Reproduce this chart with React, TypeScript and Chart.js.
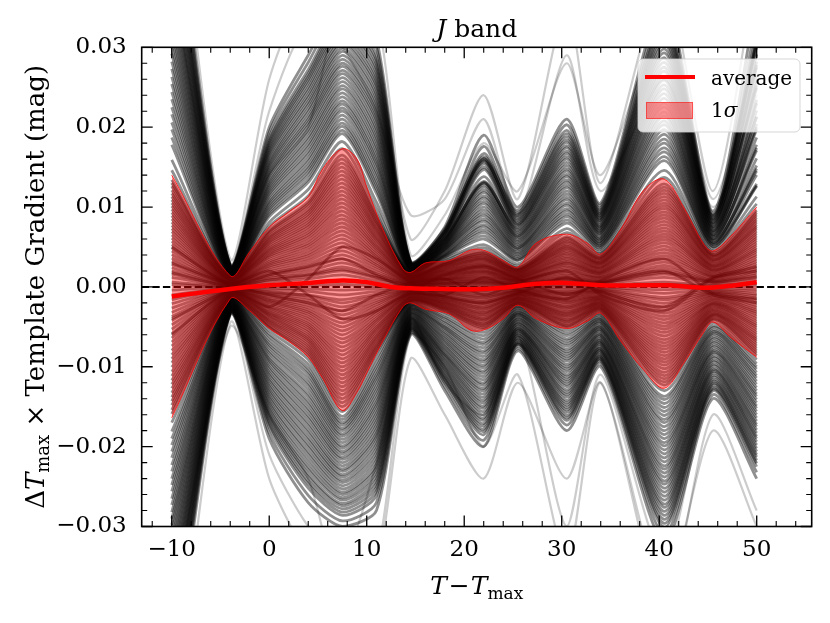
import React, { useEffect, useRef } from 'react';
import { Chart, registerables } from 'chart.js';

Chart.register(...registerables);

// ---------------- data (gradient curves in units of 1e-3 mag) ----------------
const MILLI = 0.001;
const CURVE_X = [-10, -4, 0, 4, 7.5, 11, 14.5, 18, 22, 25.5, 30.5, 34, 40.5, 45.5, 50];

// curves above zero, outer (large) to inner (small)
const UPPER_CURVES = [
  [52, 2.8, 20, 29, 36, 31, 3.2, 7.5, 19, 10, 21, 10.5, 36, 9.5, 36],
  [48.2, 2.7, 18.8, 27.2, 34.1, 28.9, 3.1, 7.1, 17.6, 9.3, 19.6, 9.9, 33.8, 9.0, 33.4],
  [46.3, 2.6, 18.1, 26.3, 33.2, 27.8, 3.0, 6.9, 15.8, 8.9, 18.8, 9.5, 32.6, 8.8, 30.1],
  [44.4, 2.5, 17.5, 25.5, 32.3, 26.7, 2.9, 6.7, 16.1, 8.5, 18.1, 9.2, 31.5, 8.5, 30.8],
  [42.5, 2.5, 16.9, 24.6, 31.3, 25.6, 2.9, 6.5, 15.4, 8.1, 17.4, 8.9, 30.4, 8.3, 27.5],
  [40.6, 2.4, 16.3, 23.7, 30.4, 24.6, 2.8, 6.2, 14.7, 7.8, 16.7, 8.6, 29.3, 8.0, 28.2],
  [38.7, 2.3, 15.6, 22.8, 29.5, 23.5, 2.7, 6.0, 13.0, 7.4, 16.0, 8.3, 28.1, 7.8, 24.9],
  [36.8, 2.2, 15.0, 21.9, 28.5, 22.4, 2.6, 5.8, 13.2, 7.0, 15.2, 7.9, 27.0, 7.5, 25.6],
  [34.9, 2.2, 14.4, 21.0, 27.6, 21.3, 2.6, 5.6, 12.5, 6.6, 14.5, 7.6, 25.9, 7.3, 21.3],
  [33.0, 2.1, 13.8, 20.2, 26.7, 20.3, 2.5, 5.4, 11.8, 6.3, 13.8, 7.3, 24.8, 7.0, 23.0],
  [31.1, 2.0, 13.1, 19.3, 25.7, 19.2, 2.4, 5.2, 11.1, 5.9, 13.1, 7.0, 23.6, 6.8, 19.7],
  [29.2, 2.0, 12.5, 18.4, 24.8, 18.1, 2.4, 5.0, 10.4, 5.5, 12.4, 6.7, 22.5, 6.5, 20.4],
  [27.3, 1.9, 11.9, 17.5, 23.8, 17.0, 2.3, 4.8, 9.6, 5.1, 11.6, 6.3, 21.4, 6.3, 17.1],
  [25.4, 1.8, 11.3, 16.6, 22.9, 15.9, 2.2, 4.6, 8.9, 4.8, 10.9, 6.0, 20.3, 6.0, 17.8],
  [23.5, 1.8, 10.6, 15.7, 22.0, 14.9, 2.2, 4.4, 8.2, 4.4, 10.2, 5.7, 19.1, 5.8, 14.5],
  [21.6, 1.7, 10.0, 14.8, 21.0, 13.8, 2.1, 4.1, 7.5, 4.0, 9.5, 5.4, 18.0, 5.5, 15.2],
  [19.7, 1.6, 9.4, 14.0, 20.1, 12.7, 2.0, 3.9, 6.8, 3.6, 8.8, 5.1, 16.9, 5.3, 12.9],
  [17.8, 1.5, 8.8, 13.1, 19.2, 11.7, 1.9, 3.7, 6.0, 3.3, 8.0, 4.7, 15.8, 5.0, 12.6],
  [15.9, 1.5, 8.1, 12.2, 18.2, 10.6, 1.9, 3.5, 5.3, 2.9, 7.3, 4.4, 14.6, 4.8, 11.3],
  [13.4, 1.3, 7.1, 10.7, 16.5, 9.1, 1.7, 3.1, 4.5, 2.4, 6.3, 4.0, 12.9, 4.3, 9.6],
  [12.6, 1.3, 6.7, 10.1, 15.5, 8.5, 1.6, 2.9, 4.2, 2.2, 5.9, 3.7, 12.1, 4.0, 9.0],
  [11.7, 1.2, 6.2, 9.4, 14.5, 8.0, 1.5, 2.8, 3.9, 2.1, 5.5, 3.5, 11.3, 3.8, 8.4],
  [10.9, 1.1, 5.8, 8.8, 13.5, 7.4, 1.4, 2.6, 3.6, 2.0, 5.1, 3.2, 10.5, 3.5, 7.8],
  [10.1, 1.0, 5.4, 8.1, 12.5, 6.9, 1.3, 2.4, 3.4, 1.8, 4.8, 3.0, 9.8, 3.3, 7.3],
  [9.3, 0.9, 4.9, 7.5, 11.5, 6.3, 1.2, 2.2, 3.1, 1.7, 4.4, 2.8, 9.0, 3.0, 6.7],
  [8.5, 0.9, 4.5, 6.8, 10.5, 5.8, 1.1, 2.0, 2.8, 1.5, 4.0, 2.5, 8.2, 2.7, 6.1],
  [7.7, 0.8, 4.1, 6.2, 9.5, 5.2, 1.0, 1.8, 2.6, 1.4, 3.6, 2.3, 7.4, 2.5, 5.5],
  [6.9, 0.7, 3.7, 5.5, 8.5, 4.7, 0.9, 1.6, 2.3, 1.2, 3.2, 2.0, 6.6, 2.2, 4.9],
  [6.1, 0.6, 3.2, 4.9, 7.5, 4.1, 0.8, 1.4, 2.0, 1.1, 2.9, 1.8, 5.9, 2.0, 4.4],
  [5.3, 0.5, 2.8, 4.2, 6.5, 3.6, 0.7, 1.2, 1.8, 0.9, 2.5, 1.6, 5.1, 1.7, 3.8],
  [4.5, 0.4, 2.4, 3.6, 5.5, 3.0, 0.6, 1.0, 1.5, 0.8, 2.1, 1.3, 4.3, 1.4, 3.2],
  [3.6, 0.4, 1.9, 2.9, 4.5, 2.5, 0.5, 0.9, 1.2, 0.7, 1.7, 1.1, 3.5, 1.2, 2.6],
  [2.8, 0.3, 1.5, 2.3, 3.5, 1.9, 0.4, 0.7, 0.9, 0.5, 1.3, 0.8, 2.7, 0.9, 2.0],
  [2.0, 0.2, 1.1, 1.6, 2.5, 1.4, 0.3, 0.5, 0.7, 0.4, 1.0, 0.6, 2.0, 0.7, 1.5],
  [1.2, 0.1, 0.6, 1.0, 1.5, 0.8, 0.2, 0.3, 0.4, 0.2, 0.6, 0.4, 1.2, 0.4, 0.9],
];

// further curves above zero, lying between the ones above
const UPPER_CURVES_B = [
  [50, 2.75, 19.4, 28.1, 35, 30, 3.15, 7.3, 16.3, 9.6, 20.3, 10.2, 34.9, 9.2, 31.0],
  [47.2, 2.65, 18.4, 26.7, 33.6, 28.3, 3.05, 7.0, 16.7, 9.1, 19.2, 9.7, 33.2, 8.9, 31.7],
  [45.3, 2.55, 17.8, 25.9, 32.7, 27.2, 2.95, 6.8, 16.0, 8.7, 18.4, 9.3, 32.0, 8.6, 30.4],
  [43.4, 2.5, 17.2, 25.0, 31.8, 26.1, 2.9, 6.6, 15.7, 8.3, 17.7, 9.0, 30.9, 8.4, 29.1],
  [41.5, 2.45, 16.6, 24.1, 30.8, 25.1, 2.85, 6.3, 15.0, 7.9, 17.0, 8.7, 29.8, 8.1, 27.8],
  [39.6, 2.35, 15.9, 23.2, 29.9, 24.0, 2.75, 6.1, 13.8, 7.6, 16.3, 8.4, 28.7, 7.9, 26.5],
  [37.7, 2.25, 15.3, 22.3, 29.0, 22.9, 2.65, 5.9, 13.1, 7.2, 15.6, 8.1, 27.5, 7.6, 25.2],
  [35.8, 2.2, 14.7, 21.4, 28.0, 21.8, 2.6, 5.7, 12.8, 6.8, 14.8, 7.7, 26.4, 7.4, 23.4],
  [33.9, 2.15, 14.1, 20.6, 27.1, 20.8, 2.55, 5.5, 12.1, 6.4, 14.1, 7.4, 25.3, 7.1, 22.1],
  [32.0, 2.05, 13.4, 19.7, 26.2, 19.7, 2.45, 5.3, 11.4, 6.1, 13.4, 7.1, 24.2, 6.9, 21.3],
  [30.1, 2.0, 12.8, 18.8, 25.2, 18.6, 2.4, 5.1, 10.7, 5.7, 12.7, 6.8, 23.0, 6.6, 20.0],
  [28.2, 1.95, 12.2, 17.9, 24.3, 17.5, 2.35, 4.9, 10.0, 5.3, 12.0, 6.5, 21.9, 6.4, 18.7],
  [26.3, 1.85, 11.6, 17.0, 23.3, 16.4, 2.25, 4.7, 9.2, 4.9, 11.2, 6.1, 20.8, 6.1, 17.4],
  [24.4, 1.8, 10.9, 16.1, 22.4, 15.4, 2.2, 4.5, 8.5, 4.6, 10.5, 5.8, 19.7, 5.9, 16.1],
  [22.5, 1.75, 10.3, 15.2, 21.5, 14.3, 2.15, 4.2, 7.8, 4.2, 9.8, 5.5, 18.5, 5.6, 14.8],
  [20.6, 1.65, 9.7, 14.4, 20.5, 13.2, 2.05, 4.0, 7.1, 3.8, 9.1, 5.2, 17.4, 5.4, 14.0],
  [18.7, 1.55, 9.1, 13.5, 19.6, 12.2, 1.95, 3.8, 6.4, 3.4, 8.4, 4.9, 16.3, 5.1, 12.7],
  [14.6, 1.4, 7.6, 11.4, 17.3, 9.8, 1.8, 3.3, 4.9, 2.6, 6.8, 4.2, 13.7, 4.5, 10.4],
  [13.0, 1.3, 6.9, 10.4, 16.0, 8.8, 1.65, 3.0, 4.3, 2.3, 6.1, 3.8, 12.5, 4.1, 9.3],
  [12.1, 1.25, 6.4, 9.7, 15.0, 8.2, 1.55, 2.85, 4.0, 2.15, 5.7, 3.6, 11.7, 3.9, 8.7],
  [11.3, 1.15, 6.0, 9.1, 14.0, 7.7, 1.45, 2.7, 3.75, 2.05, 5.3, 3.35, 10.9, 3.65, 8.1],
  [10.5, 1.05, 5.6, 8.45, 13.0, 7.15, 1.35, 2.5, 3.5, 1.9, 4.95, 3.1, 10.15, 3.4, 7.55],
  [9.7, 0.95, 5.15, 7.8, 12.0, 6.6, 1.25, 2.3, 3.25, 1.75, 4.6, 2.9, 9.4, 3.15, 7.0],
  [8.9, 0.9, 4.7, 7.15, 11.0, 6.05, 1.15, 2.1, 2.95, 1.6, 4.2, 2.65, 8.6, 2.85, 6.4],
  [8.1, 0.85, 4.3, 6.5, 10.0, 5.5, 1.05, 1.9, 2.7, 1.45, 3.8, 2.4, 7.8, 2.6, 5.8],
  [7.3, 0.75, 3.9, 5.85, 9.0, 4.95, 0.95, 1.7, 2.45, 1.3, 3.4, 2.15, 7.0, 2.35, 5.2],
  [6.5, 0.65, 3.45, 5.2, 8.0, 4.4, 0.85, 1.5, 2.15, 1.15, 3.05, 1.9, 6.25, 2.1, 4.65],
  [5.7, 0.55, 3.0, 4.55, 7.0, 3.85, 0.75, 1.3, 1.9, 1.0, 2.7, 1.7, 5.5, 1.85, 4.1],
  [4.9, 0.45, 2.6, 3.9, 6.0, 3.3, 0.65, 1.1, 1.65, 0.85, 2.3, 1.45, 4.7, 1.55, 3.5],
  [4.05, 0.4, 2.15, 3.25, 5.0, 2.75, 0.55, 0.95, 1.35, 0.75, 1.9, 1.2, 3.9, 1.3, 2.9],
  [3.2, 0.35, 1.7, 2.6, 4.0, 2.2, 0.45, 0.8, 1.05, 0.6, 1.5, 0.95, 3.1, 1.05, 2.3],
  [2.4, 0.25, 1.3, 1.95, 3.0, 1.65, 0.35, 0.6, 0.8, 0.45, 1.15, 0.7, 2.35, 0.8, 1.75],
  [1.6, 0.15, 0.85, 1.3, 2.0, 1.1, 0.25, 0.4, 0.55, 0.3, 0.8, 0.5, 1.6, 0.55, 1.2],
  [0.6, 0.05, 0.3, 0.5, 0.8, 0.4, 0.1, 0.15, 0.2, 0.1, 0.3, 0.2, 0.6, 0.2, 0.45],
];

// curves below zero, outer to inner
const LOWER_CURVES = [
  [-50, -3.5, -19, -27, -30, -28, -6, -13, -20, -8, -18, -10, -32, -14, -24],
  [-46.6, -3.3, -17.6, -25.2, -28.6, -26.1, -5.6, -12.0, -18.5, -7.4, -16.7, -9.3, -30.1, -13.0, -22.5],
  [-45.0, -3.2, -16.9, -24.3, -27.8, -25.1, -5.4, -11.5, -17.8, -7.1, -16.1, -9.0, -29.1, -12.6, -21.7],
  [-43.3, -3.1, -16.2, -23.4, -27.1, -24.1, -5.2, -11.1, -17.1, -6.9, -15.4, -8.7, -28.1, -12.1, -21.0],
  [-41.6, -3.0, -15.6, -22.5, -26.4, -23.1, -5.0, -10.6, -16.4, -6.6, -14.8, -8.3, -27.2, -11.6, -20.2],
  [-39.9, -2.9, -14.9, -21.5, -25.7, -22.2, -4.8, -10.1, -15.6, -6.3, -14.2, -8.0, -26.2, -11.1, -19.4],
  [-38.2, -2.8, -14.2, -20.6, -24.9, -21.2, -4.6, -9.6, -14.9, -6.0, -13.5, -7.7, -25.2, -10.6, -18.7],
  [-36.6, -2.7, -13.5, -19.7, -24.2, -20.2, -4.4, -9.1, -14.2, -5.7, -12.9, -7.3, -24.3, -10.2, -17.9],
  [-34.9, -2.6, -12.8, -18.8, -23.5, -19.2, -4.2, -8.6, -13.4, -5.4, -12.2, -7.0, -23.3, -9.7, -17.2],
  [-33.2, -2.5, -12.1, -17.9, -22.8, -18.3, -4.0, -8.2, -12.7, -5.2, -11.6, -6.7, -22.4, -9.2, -16.4],
  [-31.5, -2.4, -11.4, -17.0, -22.0, -17.3, -3.8, -7.7, -12.0, -4.9, -11.0, -6.3, -21.4, -8.7, -15.6],
  [-29.8, -2.3, -10.7, -16.1, -21.3, -16.3, -3.6, -7.2, -11.2, -4.6, -10.3, -6.0, -20.4, -8.2, -14.9],
  [-28.2, -2.2, -10.0, -15.2, -20.6, -15.3, -3.4, -6.7, -10.5, -4.3, -9.7, -5.6, -19.5, -7.8, -14.1],
  [-26.5, -2.1, -9.3, -14.3, -19.9, -14.4, -3.2, -6.2, -9.8, -4.0, -9.0, -5.3, -18.5, -7.3, -13.4],
  [-24.8, -2.0, -8.7, -13.4, -19.1, -13.4, -3.0, -5.7, -9.1, -3.7, -8.4, -5.0, -17.5, -6.8, -12.6],
  [-23.1, -1.9, -8.0, -12.4, -18.4, -12.4, -2.8, -5.2, -8.3, -3.4, -7.8, -4.6, -16.6, -6.3, -11.8],
  [-21.4, -1.8, -7.3, -11.5, -17.7, -11.4, -2.6, -4.8, -7.6, -3.2, -7.1, -4.3, -15.6, -5.8, -11.1],
  [-19.8, -1.7, -6.6, -10.6, -17.0, -10.5, -2.4, -4.3, -6.9, -2.9, -6.5, -4.0, -14.6, -5.4, -10.3],
  [-18.1, -1.6, -5.9, -9.7, -16.2, -9.5, -2.2, -3.8, -6.1, -2.6, -5.8, -3.6, -13.7, -4.9, -9.6],
  [-15.9, -1.5, -5.1, -8.6, -15, -8.3, -2.0, -3.2, -5.3, -2.3, -5.1, -3.2, -12.3, -4.2, -8.6],
  [-14.8, -1.4, -4.8, -8.0, -14, -7.7, -1.8, -2.9, -4.9, -2.1, -4.8, -2.9, -11.5, -3.9, -8.0],
  [-13.8, -1.3, -4.4, -7.4, -13, -7.2, -1.7, -2.7, -4.6, -2.0, -4.4, -2.7, -10.7, -3.6, -7.4],
  [-12.7, -1.2, -4.1, -6.8, -12, -6.6, -1.6, -2.5, -4.2, -1.8, -4.1, -2.5, -9.8, -3.4, -6.8],
  [-11.7, -1.1, -3.7, -6.3, -11, -6.1, -1.4, -2.3, -3.9, -1.7, -3.7, -2.3, -9.0, -3.1, -6.3],
  [-10.6, -1.0, -3.4, -5.7, -10, -5.5, -1.3, -2.1, -3.5, -1.5, -3.4, -2.1, -8.2, -2.8, -5.7],
  [-9.5, -0.9, -3.1, -5.1, -9, -5.0, -1.2, -1.9, -3.2, -1.4, -3.1, -1.9, -7.4, -2.5, -5.1],
  [-8.5, -0.8, -2.7, -4.6, -8, -4.4, -1.0, -1.7, -2.8, -1.2, -2.7, -1.7, -6.6, -2.2, -4.6],
  [-7.4, -0.7, -2.4, -4.0, -7, -3.9, -0.9, -1.5, -2.5, -1.1, -2.4, -1.5, -5.7, -2.0, -4.0],
  [-6.4, -0.6, -2.0, -3.4, -6, -3.3, -0.8, -1.3, -2.1, -0.9, -2.0, -1.3, -4.9, -1.7, -3.4],
  [-5.3, -0.5, -1.7, -2.9, -5, -2.8, -0.7, -1.1, -1.8, -0.8, -1.7, -1.1, -4.1, -1.4, -2.9],
  [-4.2, -0.4, -1.4, -2.3, -4, -2.2, -0.5, -0.8, -1.4, -0.6, -1.4, -0.8, -3.3, -1.1, -2.3],
  [-3.2, -0.3, -1.0, -1.7, -3, -1.7, -0.4, -0.6, -1.1, -0.5, -1.0, -0.6, -2.5, -0.8, -1.7],
  [-2.1, -0.2, -0.7, -1.1, -2, -1.1, -0.3, -0.4, -0.7, -0.3, -0.7, -0.4, -1.6, -0.6, -1.1],
];

// further curves below zero, lying between the ones above
const LOWER_CURVES_B = [
  [-48.3, -3.4, -18.3, -26.1, -29.3, -27.0, -5.8, -12.5, -19.2, -7.7, -17.3, -9.6, -31.0, -13.5, -23.2],
  [-45.8, -3.25, -17.2, -24.7, -28.2, -25.6, -5.5, -11.7, -18.1, -7.2, -16.4, -9.1, -29.6, -12.8, -22.1],
  [-44.1, -3.15, -16.5, -23.8, -27.4, -24.6, -5.3, -11.3, -17.4, -7.0, -15.7, -8.8, -28.6, -12.3, -21.3],
  [-42.4, -3.05, -15.9, -22.9, -26.7, -23.6, -5.1, -10.8, -16.7, -6.7, -15.1, -8.5, -27.6, -11.8, -20.6],
  [-40.7, -2.95, -15.2, -22.0, -26.0, -22.6, -4.9, -10.3, -16.0, -6.4, -14.5, -8.1, -26.7, -11.3, -19.8],
  [-39.0, -2.85, -14.5, -21.0, -25.3, -21.7, -4.7, -9.8, -15.2, -6.1, -13.8, -7.8, -25.7, -10.8, -19.0],
  [-37.4, -2.75, -13.8, -20.1, -24.5, -20.7, -4.5, -9.3, -14.5, -5.8, -13.2, -7.5, -24.7, -10.4, -18.3],
  [-35.7, -2.65, -13.1, -19.2, -23.8, -19.7, -4.3, -8.8, -13.8, -5.5, -12.5, -7.1, -23.8, -9.9, -17.5],
  [-34.0, -2.55, -12.4, -18.3, -23.1, -18.7, -4.1, -8.4, -13.0, -5.3, -11.9, -6.8, -22.8, -9.4, -16.8],
  [-32.3, -2.45, -11.7, -17.4, -22.4, -17.8, -3.9, -7.9, -12.3, -5.0, -11.3, -6.5, -21.9, -8.9, -16.0],
  [-30.6, -2.35, -11.0, -16.5, -21.6, -16.8, -3.7, -7.4, -11.6, -4.7, -10.6, -6.1, -20.9, -8.4, -15.2],
  [-29.0, -2.25, -10.3, -15.6, -20.9, -15.8, -3.5, -6.9, -10.8, -4.4, -10.0, -5.8, -19.9, -8.0, -14.5],
  [-27.3, -2.15, -9.6, -14.7, -20.2, -14.8, -3.3, -6.4, -10.1, -4.1, -9.3, -5.4, -19.0, -7.5, -13.7],
  [-25.6, -2.05, -9.0, -13.8, -19.5, -13.9, -3.1, -5.9, -9.4, -3.8, -8.7, -5.1, -18.0, -7.0, -13.0],
  [-24.0, -1.95, -8.3, -12.9, -18.7, -12.9, -2.9, -5.4, -8.7, -3.5, -8.1, -4.8, -17.0, -6.5, -12.2],
  [-22.3, -1.85, -7.6, -12.0, -18.0, -11.9, -2.7, -5.0, -8.0, -3.3, -7.4, -4.4, -16.1, -6.0, -11.4],
  [-20.6, -1.75, -7.0, -11.0, -17.3, -11.0, -2.5, -4.5, -7.2, -3.0, -6.8, -4.1, -15.1, -5.6, -10.7],
  [-19.0, -1.65, -6.2, -10.2, -16.6, -10.0, -2.3, -4.0, -6.5, -2.7, -6.1, -3.8, -14.1, -5.1, -10.0],
  [-17.0, -1.55, -5.5, -9.1, -15.6, -8.9, -2.1, -3.5, -5.7, -2.45, -5.45, -3.4, -13.0, -4.55, -9.1],
  [-15.4, -1.45, -5.0, -8.3, -14.5, -8.0, -1.9, -3.05, -5.1, -2.2, -4.95, -3.05, -11.9, -4.05, -8.3],
  [-14.3, -1.35, -4.6, -7.7, -13.5, -7.45, -1.75, -2.8, -4.75, -2.05, -4.6, -2.8, -11.1, -3.75, -7.7],
  [-13.25, -1.25, -4.25, -7.1, -12.5, -6.9, -1.65, -2.6, -4.4, -1.9, -4.25, -2.6, -10.25, -3.5, -7.1],
  [-12.2, -1.15, -3.9, -6.55, -11.5, -6.35, -1.5, -2.4, -4.05, -1.75, -3.9, -2.4, -9.4, -3.25, -6.55],
  [-11.15, -1.05, -3.55, -6.0, -10.5, -5.8, -1.35, -2.2, -3.7, -1.6, -3.55, -2.2, -8.6, -2.95, -6.0],
  [-10.05, -0.95, -3.25, -5.4, -9.5, -5.25, -1.25, -2.0, -3.35, -1.45, -3.25, -2.0, -7.8, -2.65, -5.4],
  [-9.0, -0.85, -2.9, -4.85, -8.5, -4.7, -1.1, -1.8, -3.0, -1.3, -2.9, -1.8, -7.0, -2.35, -4.85],
  [-7.95, -0.75, -2.55, -4.3, -7.5, -4.15, -0.95, -1.6, -2.65, -1.15, -2.55, -1.6, -6.15, -2.1, -4.3],
  [-6.9, -0.65, -2.2, -3.7, -6.5, -3.6, -0.85, -1.4, -2.3, -1.0, -2.2, -1.4, -5.3, -1.85, -3.7],
  [-5.85, -0.55, -1.85, -3.15, -5.5, -3.05, -0.75, -1.2, -1.95, -0.85, -1.85, -1.2, -4.5, -1.55, -3.15],
  [-4.75, -0.45, -1.55, -2.6, -4.5, -2.5, -0.6, -0.95, -1.6, -0.7, -1.55, -0.95, -3.7, -1.25, -2.6],
  [-3.7, -0.35, -1.2, -2.0, -3.5, -1.95, -0.45, -0.7, -1.25, -0.55, -1.2, -0.7, -2.9, -0.95, -2.0],
  [-2.65, -0.25, -0.85, -1.4, -2.5, -1.4, -0.35, -0.5, -0.9, -0.4, -0.85, -0.5, -2.05, -0.7, -1.4],
  [-1.0, -0.1, -0.35, -0.55, -1.0, -0.55, -0.15, -0.2, -0.35, -0.15, -0.35, -0.2, -0.8, -0.3, -0.55],
];

// small curves near zero that change sign
const CROSSING_CURVES = [
  [3, 0.2, -1, -2, -3, -1, 0.5, 1, -1, 0.5, 2, -1, -3, 1, 2],
  [-4, -0.3, 1.5, 2.5, 3.5, 1.5, -0.4, -1, 1.2, -0.4, -1.5, 0.8, 3.5, -0.8, -1.5],
  [0.3, 0.0, 0.1, 0.2, 0.3, 0.1, 0.0, 0.05, 0.1, 0.05, 0.15, 0.1, 0.3, 0.1, 0.2],
  [-0.4, 0.0, -0.15, -0.25, -0.4, -0.2, -0.05, -0.1, -0.15, -0.05, -0.15, -0.1, -0.35, -0.1, -0.25],
  [5, 0.4, 2, -1, -4, -3, -0.5, 1.5, 2.5, 1, -1, 0.5, 2, -1, -2],
  [-6, -0.5, -2.5, 1, 5, 3.5, 0.6, -1.2, -2, -0.8, 1.2, -0.6, -2.5, 1.2, 2.5],
  [1.8, 0.1, 0.9, 1.5, 2.2, 1.2, 0.2, 0.4, 0.5, 0.3, 0.9, 0.5, 1.8, 0.6, 1.3],
  [-1.6, -0.1, -0.6, -1.0, -1.6, -0.9, -0.2, -0.3, -0.5, -0.2, -0.6, -0.3, -1.3, -0.4, -0.9],
];

// sparse outlying curves (drawn lighter)
const OUTLIER_CURVES = [
  [56, 3.5, 26, 38, 42, 30, 6, 12, 24, 11, 35, 13, 38, 12, 40],
  [50, 3.0, 22, 33, 30, 22, 9, 11, 21, 9, 29, 12, 26, 10, 24],
  [38, 2.5, 14, 20, 36, 34, 4, 9, 18, 12, 28, 14, 33, 11, 30],
  [-56, -4.5, -24, -34, -40, -34, -6, -10, -20, -11, -34, -12, -40, -16, -28],
  [-48, -3.5, -21, -30, -34, -22, -4, -12, -16, -6, -30, -11, -34, -12, -22],
  [-40, -5, -16, -24, -38, -35, -9, -16, -24, -12, -24, -12, -38, -18, -30],
];

// 1-sigma band (units of 1e-3 mag)
const BAND_X = [-10, -4, -2, 0, 2, 4, 5.5, 7.5, 9, 10, 11.7, 13.7, 14.5, 16, 18.5, 20.6, 22, 24, 25.5, 27.4, 30.5, 32.6, 34, 36, 38.4, 40.5, 42.5, 44.5, 45.5, 47.3, 50];
const BAND_UPPER = [14, 1.4, 4.4, 7.5, 9.4, 11.3, 14.8, 17.3, 16, 12.5, 7.1, 2.3, 1.8, 3.0, 3.3, 4.6, 4.6, 3.3, 2.5, 5.5, 6.6, 5.5, 4.1, 7.1, 12.1, 13.5, 10, 5.5, 4.5, 6.3, 10];
const BAND_LOWER = [-16.4, -1.5, -3.0, -5.2, -6.8, -8.8, -11.5, -15.5, -13.2, -10.8, -6.7, -2.5, -2.0, -2.8, -3.4, -5.4, -5.4, -4.0, -2.3, -4.0, -5.2, -4.3, -3.3, -6.7, -10.4, -12.7, -9.6, -5.8, -4.4, -6.3, -8.8];

// average curve (units of 1e-3 mag)
const AVG_X = [-10, -4, 0, 4, 7.5, 10, 12.5, 15, 18, 21, 24, 27.5, 30.5, 34, 38, 41, 44.5, 47, 50];
const AVG_Y = [-1.2, -0.25, 0.2, 0.5, 0.8, 0.6, 0.0, -0.2, -0.25, -0.3, -0.1, 0.4, 0.5, 0.2, 0.2, 0.2, -0.1, 0.1, 0.6];

// axes
const X_MIN = -13.08;
const X_MAX = 55.64;
const Y_MIN = -0.03;
const Y_MAX = 0.03;
const X_TICKS = [-10, 0, 10, 20, 30, 40, 50];
const X_MINOR = [-12, -8, -6, -4, -2, 2, 4, 6, 8, 12, 14, 16, 18, 22, 24, 26, 28, 32, 34, 36, 38, 42, 44, 46, 48, 52, 54];
const Y_TICKS = [-0.03, -0.02, -0.01, 0, 0.01, 0.02, 0.03];
const Y_MINOR = [-0.028, -0.026, -0.024, -0.022, -0.018, -0.016, -0.014, -0.012, -0.008, -0.006, -0.004, -0.002,
  0.002, 0.004, 0.006, 0.008, 0.012, 0.014, 0.016, 0.018, 0.022, 0.024, 0.026, 0.028];
const LEGEND_LABELS = ['average', '1', 'σ'];

// ---------------- style ----------------
const SERIF = "'DejaVu Serif', serif";
const RED = '#ff0000';
const BAND_FILL = 'rgba(255,0,0,0.4)';
const GRAY = 'rgba(0,0,0,0.44)';
const LIGHT_GRAY = 'rgba(0,0,0,0.2)';

type Part = { t: string; size: number; italic?: boolean; dy?: number; gapAfter?: number };

function drawParts(ctx: CanvasRenderingContext2D, parts: Part[], cx: number, baseline: number) {
  const widths = parts.map((p) => {
    ctx.font = `${p.italic ? 'italic ' : ''}${p.size}px ${SERIF}`;
    return ctx.measureText(p.t).width + (p.gapAfter || 0);
  });
  const total = widths.reduce((a, b) => a + b, 0);
  let x = cx - total / 2;
  ctx.textAlign = 'left';
  ctx.textBaseline = 'alphabetic';
  parts.forEach((p, i) => {
    ctx.font = `${p.italic ? 'italic ' : ''}${p.size}px ${SERIF}`;
    ctx.fillText(p.t, x, baseline + (p.dy || 0));
    x += widths[i];
  });
}

const decorPlugin = {
  id: 'decor',
  beforeDatasetsDraw(chart: any) {
    const { ctx, chartArea, scales } = chart;
    const py = scales.y.getPixelForValue(0);
    ctx.save();
    ctx.beginPath();
    ctx.rect(chartArea.left, chartArea.top, chartArea.right - chartArea.left, chartArea.bottom - chartArea.top);
    ctx.clip();
    ctx.setLineDash([7.4, 3.2]);
    ctx.lineWidth = 2;
    ctx.strokeStyle = '#000';
    ctx.beginPath();
    ctx.moveTo(chartArea.left, py);
    ctx.lineTo(chartArea.right, py);
    ctx.stroke();
    ctx.restore();
  },
  afterDraw(chart: any) {
    const { ctx, chartArea, scales } = chart;
    const { left, right, top, bottom } = chartArea;
    ctx.save();
    ctx.strokeStyle = '#000';
    ctx.fillStyle = '#000';

    const tick = (len: number, w: number, xs: number[], ys: number[]) => {
      ctx.lineWidth = w;
      ctx.beginPath();
      xs.forEach((v) => {
        const px = scales.x.getPixelForValue(v);
        ctx.moveTo(px, bottom);
        ctx.lineTo(px, bottom - len);
        ctx.moveTo(px, top);
        ctx.lineTo(px, top + len);
      });
      ys.forEach((v) => {
        const py = scales.y.getPixelForValue(v);
        ctx.moveTo(left, py);
        ctx.lineTo(left + len, py);
        ctx.moveTo(right, py);
        ctx.lineTo(right - len, py);
      });
      ctx.stroke();
    };
    tick(11, 1.3, X_TICKS, Y_TICKS);
    tick(5.5, 1.1, X_MINOR, Y_MINOR);

    ctx.lineWidth = 1.6;
    ctx.strokeRect(left, top, right - left, bottom - top);

    const cx = (left + right) / 2;
    drawParts(ctx, [
      { t: 'J', size: 25, italic: true },
      { t: ' band', size: 25 },
    ], cx, 37);

    drawParts(ctx, [
      { t: 'T', size: 25, italic: true, gapAfter: 2 },
      { t: '−', size: 25, gapAfter: 1 },
      { t: 'T', size: 25, italic: true },
      { t: 'max', size: 17, dy: 5 },
    ], cx, 594);

    ctx.save();
    ctx.translate(44, (top + bottom) / 2);
    ctx.rotate(-Math.PI / 2);
    drawParts(ctx, [
      { t: 'Δ', size: 26 },
      { t: 'T', size: 26, italic: true },
      { t: 'max', size: 18, dy: 5 },
      { t: ' × Template Gradient (mag)', size: 26 },
    ], 0, 0);
    ctx.restore();

    // legend
    const lx = 638, ly = 59, lw = 162, lh = 73, r = 5;
    ctx.beginPath();
    ctx.moveTo(lx + r, ly);
    ctx.arcTo(lx + lw, ly, lx + lw, ly + lh, r);
    ctx.arcTo(lx + lw, ly + lh, lx, ly + lh, r);
    ctx.arcTo(lx, ly + lh, lx, ly, r);
    ctx.arcTo(lx, ly, lx + lw, ly, r);
    ctx.closePath();
    ctx.fillStyle = 'rgba(255,255,255,0.8)';
    ctx.fill();
    ctx.lineWidth = 1;
    ctx.strokeStyle = 'rgba(204,204,204,0.8)';
    ctx.stroke();

    ctx.strokeStyle = RED;
    ctx.lineWidth = 4;
    ctx.beginPath();
    ctx.moveTo(645, 77);
    ctx.lineTo(695, 77);
    ctx.stroke();

    ctx.fillStyle = BAND_FILL;
    ctx.fillRect(646, 102, 47, 17);
    ctx.strokeStyle = 'rgba(255,0,0,0.45)';
    ctx.lineWidth = 1;
    ctx.strokeRect(646.5, 102.5, 46, 16);

    ctx.fillStyle = '#000';
    ctx.textAlign = 'left';
    ctx.textBaseline = 'alphabetic';
    ctx.font = `20px ${SERIF}`;
    ctx.fillText(LEGEND_LABELS[0], 711, 85);
    ctx.fillText(LEGEND_LABELS[1], 711, 117);
    const w1 = ctx.measureText(LEGEND_LABELS[1]).width;
    ctx.font = `italic 20px ${SERIF}`;
    ctx.fillText(LEGEND_LABELS[2], 711 + w1, 117);

    ctx.restore();
  },
};

function toPoints(xs: number[], ys: number[]) {
  return xs.map((x, i) => ({ x, y: ys[i] * MILLI }));
}

function grayLine(vals: number[], color: string, width: number) {
  return {
    data: toPoints(CURVE_X, vals),
    borderColor: color,
    borderWidth: width,
    pointRadius: 0,
    tension: 0.25,
    fill: false,
    order: 50,
  };
}

export default function App() {
  const ref = useRef<HTMLCanvasElement | null>(null);

  useEffect(() => {
    if (!ref.current) return;
    const grayDatasets = [
      ...UPPER_CURVES.map((v) => grayLine(v, GRAY, 2.8)),
      ...UPPER_CURVES_B.map((v) => grayLine(v, GRAY, 2.8)),
      ...LOWER_CURVES.map((v) => grayLine(v, GRAY, 2.8)),
      ...LOWER_CURVES_B.map((v) => grayLine(v, GRAY, 2.8)),
      ...CROSSING_CURVES.map((v) => grayLine(v, GRAY, 2.8)),
      ...OUTLIER_CURVES.map((v) => grayLine(v, LIGHT_GRAY, 2.2)),
    ];

    const chart = new Chart(ref.current, {
      type: 'line',
      data: {
        datasets: [
          {
            label: 'average',
            data: toPoints(AVG_X, AVG_Y),
            borderColor: RED,
            borderWidth: 4.5,
            pointRadius: 0,
            tension: 0.4,
            fill: false,
            order: 0,
          },
          {
            label: '1σ upper',
            data: toPoints(BAND_X, BAND_UPPER),
            borderColor: 'rgba(255,0,0,0.8)',
            borderWidth: 1,
            pointRadius: 0,
            tension: 0.35,
            backgroundColor: BAND_FILL,
            fill: '+1',
            order: 5,
          },
          {
            label: '1σ lower',
            data: toPoints(BAND_X, BAND_LOWER),
            borderColor: 'rgba(255,0,0,0.8)',
            borderWidth: 1,
            pointRadius: 0,
            tension: 0.35,
            fill: false,
            order: 5,
          },
          ...grayDatasets,
        ] as any,
      },
      options: {
        animation: false,
        responsive: false,
        devicePixelRatio: 1,
        events: [],
        layout: { padding: { left: 0, right: 18.3, top: 47.3, bottom: 0 } },
        plugins: {
          legend: { display: false },
          tooltip: { enabled: false },
          title: { display: false },
        },
        scales: {
          x: {
            type: 'linear',
            min: X_MIN,
            max: X_MAX,
            grid: { display: false, drawTicks: false },
            border: { display: false },
            afterFit: (s: any) => {
              s.height = 623 - 526.5;
            },
            afterBuildTicks: (s: any) => {
              s.ticks = X_TICKS.map((v) => ({ value: v }));
            },
            ticks: {
              color: '#000',
              padding: 10,
              maxRotation: 0,
              font: { family: SERIF, size: 23 },
              callback: (v: any) => String(v).replace('-', '−'),
            },
          },
          y: {
            type: 'linear',
            min: Y_MIN,
            max: Y_MAX,
            grid: { display: false, drawTicks: false },
            border: { display: false },
            afterFit: (s: any) => {
              s.width = 141.7;
            },
            afterBuildTicks: (s: any) => {
              s.ticks = Y_TICKS.map((v) => ({ value: v }));
            },
            ticks: {
              color: '#000',
              padding: 15,
              font: { family: SERIF, size: 23 },
              callback: (v: any) => Number(v).toFixed(2).replace('-', '−'),
            },
          },
        },
      },
      plugins: [decorPlugin],
    } as any);
    return () => chart.destroy();
  }, []);

  return (
    <div style={{ position: 'fixed', left: 0, top: 0, width: 830, height: 623, background: '#fff' }}>
      <canvas ref={ref} width={830} height={623} style={{ display: 'block', width: 830, height: 623 }} />
    </div>
  );
}
